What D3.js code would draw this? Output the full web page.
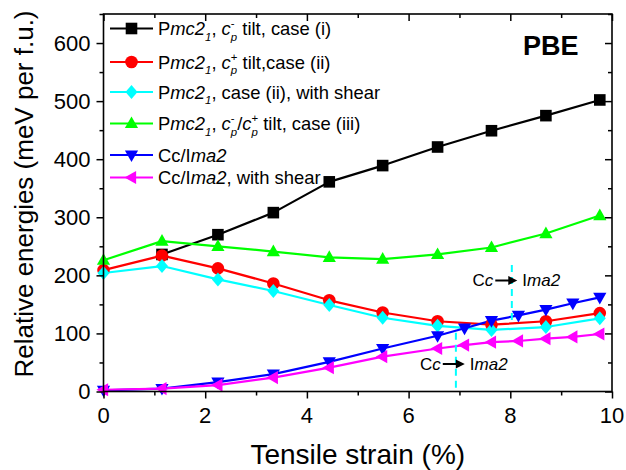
<!DOCTYPE html>
<html>
<head>
<meta charset="utf-8">
<script src="https://cdn.jsdelivr.net/npm/d3@7"></script>
<style>
  body { margin: 0; background: #fff; }
  svg text { font-family: Arial, "Liberation Sans", sans-serif; fill: #000; }
</style>
</head>
<body>
<svg id="chart" width="626" height="470"></svg>
<script>
"use strict";

// strain points (%)
const strain = [0, 1.15, 2.25, 3.34, 4.44, 5.49, 6.57, 7.63, 8.7, 9.76];
const strainFine = [0, 1.15, 2.25, 3.34, 4.44, 5.49, 6.57, 7.1, 7.63, 8.16, 8.7, 9.23, 9.76];

// energies (meV per f.u.)
const caseI = [null, 236, 270, 308, 361, 389, 421, 449, 475, 502];
const caseII = [209, 234, 212, 186, 157, 136, 121, 115, 121, 135];
const caseIIShear = [204, 216, 193, 173, 149, 127, 113, 106, 111, 126];
const caseIII = [226, 259, 250, 241, 231, 228, 236, 248, 272, 303];
const ccIma2 = [2, 5, 16, 30, 51, 74, 96, 109, 122, 131, 141, 152, 162];
const ccIma2Shear = [3, 5, 11, 24, 41, 60, 74, 80, 85, 87, 91, 94, 99];

const xTicks = [0, 2, 4, 6, 8, 10];
const yTicks = [0, 100, 200, 300, 400, 500, 600];

// transition markers: strain and energy range of the dashed lines
const transUpper = {x: 8.03, y0: 120, y1: 218};
const transLower = {x: 6.93, y0: 6, y1: 101};

let svg = d3.select("#chart"),
  pl = 103.5, pr = 612, pt = 14, pb = 391.5,
  x = d3.scaleLinear().domain([0, 10]).range([pl, pr]),
  y = d3.scaleLinear().domain([0, 650]).range([pb, pt])
;

let series = [
  {xs: strain, ys: caseI, color: "#000000", shape: "square"},
  {xs: strain, ys: caseII, color: "#ff0000", shape: "circle"},
  {xs: strain, ys: caseIIShear, color: "#00ffff", shape: "diamond"},
  {xs: strain, ys: caseIII, color: "#00ff00", shape: "up"},
  {xs: strainFine, ys: ccIma2, color: "#0000ff", shape: "down"},
  {xs: strainFine, ys: ccIma2Shear, color: "#ff00ff", shape: "left"}
];

function marker(g, shape, cx, cy, color) {
  let p;
  switch (shape) {
    case "square": p = "M-5.8,-5.8h11.6v11.6h-11.6z"; break;
    case "circle":
      g.append("circle").attr("cx", cx).attr("cy", cy).attr("r", 6.3).attr("fill", color);
      return;
    case "diamond": p = "M0,-7L6,0L0,7L-6,0z"; break;
    case "up": p = "M0,-7L6.6,4.6L-6.6,4.6z"; break;
    case "down": p = "M0,7L6.6,-4.6L-6.6,-4.6z"; break;
    case "left": p = "M-7,0L4.6,-6.6L4.6,6.6z"; break;
  }
  g.append("path").attr("d", p).attr("fill", color)
    .attr("transform", "translate(" + cx + "," + cy + ")");
}

// lines and markers
let plot = svg.append("g");
series.forEach(function(s) {
  let pts = s.xs.map(function(v, i) { return [v, s.ys[i]]; })
    .filter(function(d) { return d[1] != null; });
  let line = d3.line().x(function(d) { return x(d[0]); }).y(function(d) { return y(d[1]); });
  plot.append("path")
    .datum(pts)
    .attr("fill", "none")
    .attr("stroke", s.color)
    .attr("stroke-width", 2.2)
    .attr("stroke-linejoin", "round")
    .attr("d", line);
  s.pts = pts;
});
series.forEach(function(s) {
  s.pts.forEach(function(d) { marker(plot, s.shape, x(d[0]), y(d[1]), s.color); });
});

// frame and ticks
let axes = svg.append("g");
axes.append("rect")
  .attr("x", pl).attr("y", pt)
  .attr("width", pr - pl).attr("height", pb - pt)
  .attr("fill", "none").attr("stroke", "#000").attr("stroke-width", 1.6);

function xTickRow(yPos) {
  axes.append("g").attr("transform", "translate(0," + yPos + ")")
    .call(d3.axisBottom(x).tickValues(d3.range(0, 10.01, 1)).tickSize(7).tickFormat(""))
    .call(function(g) { g.select(".domain").remove(); g.selectAll("line").attr("stroke-width", 1.5); g.selectAll("text").remove(); })
    .selectAll(".tick")
    .filter(function(d) { return d % 2 === 1; })
    .select("line").attr("y2", 4);
}
function yTickRow(xPos) {
  axes.append("g").attr("transform", "translate(" + xPos + ",0)")
    .call(d3.axisLeft(y).tickValues(d3.range(0, 651, 50)).tickSize(7).tickFormat(""))
    .call(function(g) { g.select(".domain").remove(); g.selectAll("line").attr("stroke-width", 1.5); g.selectAll("text").remove(); })
    .selectAll(".tick")
    .filter(function(d) { return d % 100 !== 0; })
    .select("line").attr("x2", -4);
}
xTickRow(pb);
xTickRow(pt);
yTickRow(pl);
yTickRow(pr);

// tick labels
axes.selectAll(".xlab").data(xTicks).enter().append("text")
  .attr("x", function(d) { return x(d); })
  .attr("y", pb + 31.5)
  .attr("text-anchor", "middle")
  .attr("font-size", 22)
  .text(function(d) { return d; });

axes.selectAll(".ylab").data(yTicks).enter().append("text")
  .attr("x", pl - 13)
  .attr("y", function(d) { return y(d) + 7.8; })
  .attr("text-anchor", "end")
  .attr("font-size", 22)
  .text(function(d) { return d; });

svg.append("text")
  .attr("x", (pl + pr) / 2)
  .attr("y", 463.5)
  .attr("text-anchor", "middle")
  .attr("font-size", 28)
  .text("Tensile strain (%)");

svg.append("text")
  .attr("transform", "translate(33,194) rotate(-90)")
  .attr("text-anchor", "middle")
  .attr("font-size", 26)
  .text("Relative energies (meV per f.u.)");

svg.append("text")
  .attr("x", 523).attr("y", 55)
  .attr("font-size", 27).attr("font-weight", "bold")
  .text("PBE");

// rich text: parts {t, i: italic, sub, stack: [sup, sub]}
// baseline shifts are carried over to the next tspan so no empty tspans are made
function richText(g, px, py, size, parts) {
  let t = g.append("text").attr("x", px).attr("y", py).attr("font-size", size);
  let small = size * 0.62, carryDy = 0, carryDx = 0;
  function span(txt, dy, dx) {
    let ts = t.append("tspan").text(txt);
    if (dy + carryDy) ts.attr("dy", dy + carryDy);
    if (dx + carryDx) ts.attr("dx", dx + carryDx);
    carryDy = 0; carryDx = 0;
    return ts;
  }
  parts.forEach(function(p) {
    if (p.stack) {
      let sup = span(p.stack[0], -size * 0.42, 0).attr("font-size", small);
      let w = sup.node().getComputedTextLength();
      let sb = span(p.stack[1], size * 0.72, -w).attr("font-size", small).attr("font-style", "italic");
      let w2 = sb.node().getComputedTextLength();
      carryDy = -size * 0.30;
      carryDx = Math.max(0, w - w2);
      return;
    }
    let ts = span(p.t, p.sub ? size * 0.3 : 0, 0);
    if (p.i) ts.attr("font-style", "italic");
    if (p.sub) {
      ts.attr("font-size", small);
      carryDy = -size * 0.3;
    }
  });
  return t;
}

// legend
let legendRows = [
  {ys: 28.5, parts: [{t: "P"}, {t: "mc2", i: 1}, {t: "1", i: 1, sub: 1}, {t: ", "}, {t: "c", i: 1}, {stack: ["-", "p"]}, {t: " tilt, case (i)"}]},
  {ys: 62, parts: [{t: "P"}, {t: "mc2", i: 1}, {t: "1", i: 1, sub: 1}, {t: ", "}, {t: "c", i: 1}, {stack: ["+", "p"]}, {t: " tilt,case (ii)"}]},
  {ys: 92, parts: [{t: "P"}, {t: "mc2", i: 1}, {t: "1", i: 1, sub: 1}, {t: ", case (ii), with shear"}]},
  {ys: 123.5, parts: [{t: "P"}, {t: "mc2", i: 1}, {t: "1", i: 1, sub: 1}, {t: ", "}, {t: "c", i: 1}, {stack: ["-", "p"]}, {t: "/"}, {t: "c", i: 1}, {stack: ["+", "p"]}, {t: " tilt, case (iii)"}]},
  {ys: 155, parts: [{t: "Cc/I"}, {t: "ma2", i: 1}]},
  {ys: 177.5, parts: [{t: "Cc/I"}, {t: "ma2", i: 1}, {t: ", with shear"}]}
];

let legend = svg.append("g");
legendRows.forEach(function(r, i) {
  let s = series[i];
  legend.append("line")
    .attr("x1", 110).attr("x2", 153)
    .attr("y1", r.ys).attr("y2", r.ys)
    .attr("stroke", s.color).attr("stroke-width", 2.2);
  marker(legend, s.shape, 131.5, r.ys, s.color);
  richText(legend, 158, r.ys + 6.6, 18.4, r.parts);
});

// transition annotations
let ann = svg.append("g");
[transUpper, transLower].forEach(function(tr) {
  ann.append("line")
    .attr("x1", x(tr.x)).attr("x2", x(tr.x))
    .attr("y1", y(tr.y1)).attr("y2", y(tr.y0))
    .attr("stroke", "#00ffff").attr("stroke-width", 2)
    .attr("stroke-dasharray", "7,5");
});

function transitionLabel(tx, ty) {
  let g = ann.append("g");
  let t = g.append("text").attr("x", tx).attr("y", ty).attr("font-size", 17);
  t.append("tspan").text("C");
  t.append("tspan").attr("font-style", "italic").text("c");
  let x0 = tx + t.node().getComputedTextLength() + 2;
  g.append("line")
    .attr("x1", x0).attr("x2", x0 + 14)
    .attr("y1", ty - 5.5).attr("y2", ty - 5.5)
    .attr("stroke", "#000").attr("stroke-width", 2);
  g.append("path")
    .attr("d", "M" + (x0 + 22) + "," + (ty - 5.5) + "l-9,-4.5v9z")
    .attr("fill", "#000");
  let t2 = g.append("text").attr("x", x0 + 27).attr("y", ty).attr("font-size", 17);
  t2.append("tspan").text("I");
  t2.append("tspan").attr("font-style", "italic").text("ma2");
}
transitionLabel(472.5, 286);
transitionLabel(420, 369.5);
</script>
</body>
</html>
